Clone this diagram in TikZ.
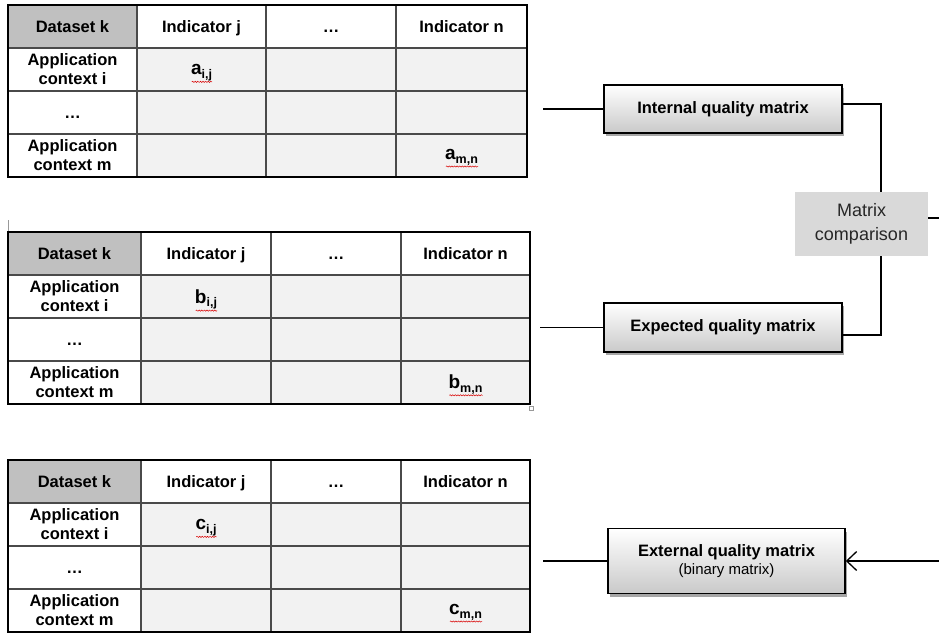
\documentclass[tikz,border=0pt]{standalone}
\usepackage{fontspec}
\setmainfont{Liberation Sans}
\usetikzlibrary{arrows.meta,shadows,decorations.pathmorphing,calc}

\definecolor{hdrgray}{HTML}{C0C0C0}
\definecolor{cellgray}{HTML}{F2F2F2}
\definecolor{cmpgray}{HTML}{D9D9D9}
\definecolor{txtgray}{HTML}{262626}
\definecolor{gridgray}{HTML}{4A4A4A}

\tikzset{
  gridline/.style={draw=gridgray, line width=1.1pt},
  frame/.style={draw=black, line width=2.4pt},
  cell/.style={font=\bfseries\fontsize{16.5}{19}\selectfont, align=center, inner sep=0pt},
  hcell/.style={cell, text height=11.8pt, text depth=0pt},
  entry/.style={inner sep=0pt},
  squig/.style={draw=red!85!black, line width=0.5pt,
    decorate, decoration={snake, segment length=2.6pt, amplitude=0.6pt}},
  qbox/.style={draw=black, line width=1.5pt, top color=white, bottom color=gray!42,
    drop shadow={shadow xshift=2pt, shadow yshift=-3pt, opacity=0.35, fill=black},
    font=\bfseries\fontsize{16.5}{19}\selectfont, align=center, inner sep=0pt},
  cmpbox/.style={fill=cmpgray, text=txtgray, font=\fontsize{18}{24}\selectfont,
    align=center, inner sep=0pt, minimum width=133pt, minimum height=64pt},
  conn/.style={draw=black, line width=1.4pt},
  mark2/.style={draw=gray!80, line width=0.6pt}
}

% matrix entry: letter with bold subscript
\newcommand\entrytext[2]{{\bfseries\fontsize{19}{19}\selectfont #1}\raisebox{-3.5pt}{\bfseries\fontsize{12.5}{12.5}\selectfont #2}}

% #1 name, #2 top, #3..#5 inner column lines, #6 right edge, #7 entry letter
\newcommand\qtable[7]{%
  \fill[hdrgray] (8,#2) rectangle (#3,#2+43);
  \fill[cellgray] (#3,#2+43) rectangle (#6,#2+172);
  \foreach \xx in {#3,#4,#5} \draw[gridline] (\xx,#2) -- (\xx,#2+172);
  \foreach \yy in {43,86,129} \draw[gridline] (8,#2+\yy) -- (#6,#2+\yy);
  \draw[frame] (8,#2) rectangle (#6,#2+172);
  \node[hcell] (#1-hk) at ({(8+#3)/2},#2+22) {Dataset k};
  \node[hcell] (#1-hj) at ({(#3+#4)/2},#2+22) {Indicator j};
  \node[hcell] (#1-hd) at ({(#4+#5)/2},#2+22) {…};
  \node[hcell] (#1-hn) at ({(#5+#6)/2},#2+22) {Indicator n};
  \node[cell] (#1-ri) at ({(8+#3)/2},#2+64.5) {Application\\context i};
  \node[hcell] (#1-rd) at ({(8+#3)/2},#2+107.5) {…};
  \node[cell] (#1-rm) at ({(8+#3)/2},#2+150.5) {Application\\context m};
  \node[entry] (#1-ij) at ({(#3+#4)/2},#2+67.5) {\entrytext{#7}{i,j}};
  \node[entry] (#1-mn) at ({(#5+#6)/2},#2+152.5) {\entrytext{#7}{m,n}};
  \draw[squig] ($(#1-ij.south west)+(1,1)$) -- ($(#1-ij.south east)+(0,1)$);
  \draw[squig] ($(#1-mn.south west)+(1,1)$) -- ($(#1-mn.south east)+(0,1)$);
}

\begin{document}
\begin{tikzpicture}[x=1pt,y=-1pt]
  \useasboundingbox (0,0) rectangle (939,632);

  % the three matrices
  \qtable{ta}{5}{137}{266}{396}{527}{a}
  \qtable{tb}{232}{141}{271}{401}{530}{b}
  \qtable{tc}{460}{141}{271}{401}{530}{c}

  % small editing marks
  \draw[mark2] (8,220) -- (8,231);
  \draw[mark2] (529,406) rectangle (533,410);

  % quality matrices
  \node[qbox, minimum width=238pt, minimum height=48pt] (int) at (723,109) {Internal quality matrix};
  \node[qbox, minimum width=238pt, minimum height=49pt] (exp) at (723,327.5) {Expected quality matrix};
  \node[qbox, minimum width=237pt, minimum height=65pt] (ext) at (726.5,561)
    {External quality matrix\\[-1pt]{\mdseries\fontsize{15}{18}\selectfont (binary matrix)}};
  \node[cmpbox] (cmp) at (861.5,224) {Matrix\\comparison};

  % connectors
  \coordinate (intL) at (543,109);
  \coordinate (expL) at (540,327.5);
  \coordinate (extL) at (543,561);
  \coordinate (cmpT) at ($(cmp.north)+(19.5,0)$);
  \coordinate (cmpB) at ($(cmp.south)+(19.5,0)$);
  \coordinate (cmpOut) at (939,218);
  \coordinate (extIn) at (939,561);

  \draw[conn] (intL) -- (int.west);
  \draw[conn] (expL) -- (exp.west);
  \draw[conn] (extL) -- (ext.west);
  \draw[conn] ($(int.east)+(0,-5)$) -| (cmpT);
  \draw[conn] ($(exp.east)+(0,7.5)$) -| (cmpB);
  \draw[conn] ($(cmp.east)+(0,-6)$) -- (cmpOut);
  \draw[conn, -{Straight Barb[length=10pt, width=19pt, line width=1.3pt]}] (extIn) -- (ext.east);
\end{tikzpicture}
\end{document}
